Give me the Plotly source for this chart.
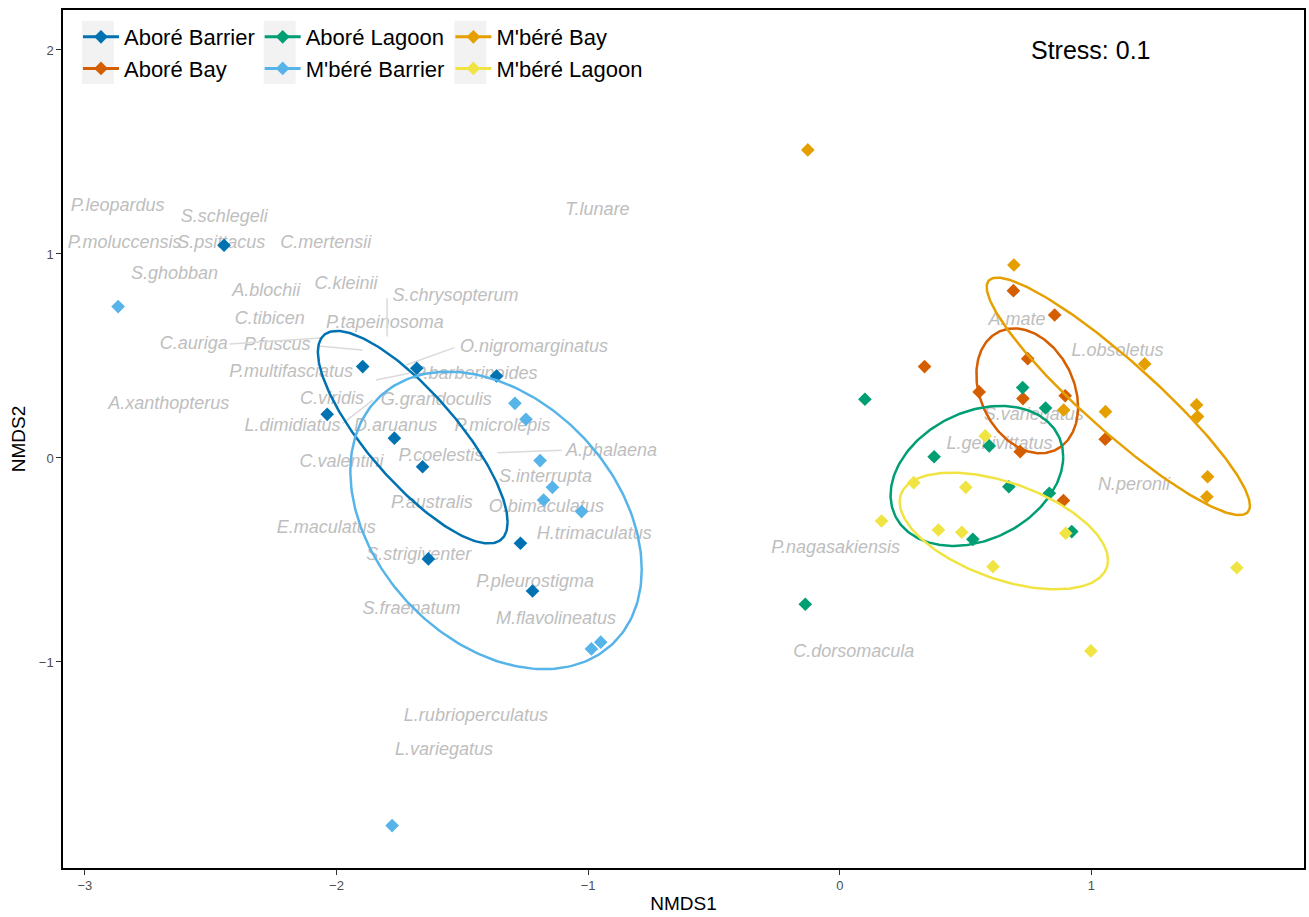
import numpy as np
import plotly.graph_objects as go

groups = ["Aboré Barrier", "Aboré Bay", "Aboré Lagoon", "M'béré Barrier", "M'béré Bay", "M'béré Lagoon"]
colors = ["#0072B2", "#D55E00", "#009E73", "#56B4E9", "#E69F00", "#F0E442"]

# site scores (NMDS1, NMDS2)
abore_barrier_x = [-2.447, -1.896, -1.681, -1.364, -2.037, -1.770, -1.658, -1.269, -1.635, -1.221]
abore_barrier_y = [1.043, 0.448, 0.440, 0.402, 0.214, 0.097, -0.043, -0.418, -0.495, -0.652]
abore_bay_x = [0.690, 0.854, 0.337, 0.747, 0.554, 0.728, 0.896, 1.055, 0.717, 0.889]
abore_bay_y = [0.820, 0.701, 0.448, 0.487, 0.324, 0.291, 0.305, 0.092, 0.031, -0.209]
abore_lagoon_x = [0.100, 0.727, 0.818, 0.594, 0.375, 0.672, 0.833, 0.529, 0.922, -0.137]
abore_lagoon_y = [0.288, 0.345, 0.245, 0.059, 0.006, -0.141, -0.173, -0.399, -0.361, -0.717]
mbere_barrier_x = [-2.868, -1.291, -1.247, -1.191, -1.142, -1.177, -1.026, -0.950, -0.987, -1.779]
mbere_barrier_y = [0.742, 0.268, 0.190, -0.013, -0.144, -0.206, -0.263, -0.903, -0.936, -1.802]
mbere_bay_x = [-0.127, 0.692, 1.212, 0.890, 1.056, 1.418, 1.422, 1.462, 1.459]
mbere_bay_y = [1.510, 0.946, 0.461, 0.235, 0.227, 0.260, 0.203, -0.092, -0.190]
mbere_lagoon_x = [0.578, 0.294, 0.501, 0.166, 0.392, 0.485, 0.898, 0.609, 1.578, 0.998]
mbere_lagoon_y = [0.108, -0.121, -0.144, -0.309, -0.353, -0.364, -0.369, -0.533, -0.538, -0.946]

site_x = [abore_barrier_x, abore_bay_x, abore_lagoon_x, mbere_barrier_x, mbere_bay_x, mbere_lagoon_x]
site_y = [abore_barrier_y, abore_bay_y, abore_lagoon_y, mbere_barrier_y, mbere_bay_y, mbere_lagoon_y]

# group ellipses: centre, sd along x / y, correlation
ell_cx = [-1.697, 0.745, 0.545, -1.366, 1.107, 0.652]
ell_cy = [0.102, 0.329, -0.088, -0.306, 0.302, -0.358]
ell_sx = [0.377, 0.202, 0.343, 0.579, 0.523, 0.414]
ell_sy = [0.521, 0.306, 0.343, 0.729, 0.582, 0.286]
ell_r = [-0.80, -0.26, 0.275, -0.33, -0.92, -0.50]

# species labels (repelled positions)
species = ["P.leopardus", "S.schlegeli", "P.moluccensis", "S.psittacus", "C.mertensii", "S.ghobban",
           "A.blochii", "C.kleinii", "C.tibicen", "C.auriga", "P.fuscus", "P.multifasciatus",
           "A.xanthopterus", "C.viridis", "L.dimidiatus", "S.chrysopterum", "P.tapeinosoma",
           "O.nigromarginatus", "P.barberinoides", "G.grandoculis", "D.aruanus", "P.microlepis",
           "A.phalaena", "P.coelestis", "C.valentini", "S.interrupta", "P.australis", "O.bimaculatus",
           "E.maculatus", "H.trimaculatus", "S.strigiventer", "P.pleurostigma", "S.fraenatum",
           "M.flavolineatus", "L.rubrioperculatus", "L.variegatus", "T.lunare", "A.mate",
           "L.obsoletus", "S.variegatus", "L.genivittatus", "N.peronii", "P.nagasakiensis",
           "C.dorsomacula"]
species_x = [-2.870, -2.446, -2.842, -2.458, -2.043, -2.644, -2.279, -1.962, -2.265, -2.567, -2.236,
             -2.180, -2.667, -2.018, -2.175, -1.527, -1.808, -1.215, -1.447, -1.604, -1.765, -1.341,
             -0.907, -1.585, -1.980, -1.169, -1.621, -1.166, -2.041, -0.976, -1.673, -1.211, -1.702,
             -1.128, -1.446, -1.573, -0.963, 0.704, 1.104, 0.771, 0.635, 1.169, -0.016, 0.056]
species_y = [1.235, 1.180, 1.049, 1.049, 1.049, 0.897, 0.815, 0.848, 0.681, 0.554, 0.550, 0.418,
             0.260, 0.288, 0.153, 0.791, 0.660, 0.543, 0.410, 0.281, 0.153, 0.153, 0.034, 0.006,
             -0.022, -0.097, -0.225, -0.242, -0.345, -0.374, -0.479, -0.611, -0.742, -0.791,
             -1.268, -1.435, 1.212, 0.673, 0.521, 0.206, 0.064, -0.136, -0.446, -0.952]

# repel segments (label -> species score)
seg_x0 = [-2.425, -2.075, -1.799, -1.532, -1.843, -1.975, -1.360]
seg_y0 = [0.559, 0.549, 0.783, 0.541, 0.382, 0.170, 0.026]
seg_x1 = [-2.060, -1.897, -1.799, -1.723, -1.710, -1.856, -1.105]
seg_y1 = [0.588, 0.529, 0.595, 0.456, 0.415, 0.284, 0.038]

font_family = "Liberation Sans, Arial, sans-serif"

fig = go.Figure()

fig.add_trace(go.Scatter(x=species_x, y=species_y, mode='text', text=species,
                         textfont=dict(family=font_family, size=18, color='#BEBEBE', style='italic'),
                         showlegend=False, hoverinfo='skip'))

sx, sy = [], []
for a, b, c, d in zip(seg_x0, seg_y0, seg_x1, seg_y1):
    sx += [a, c, None]
    sy += [b, d, None]
fig.add_trace(go.Scatter(x=sx, y=sy, mode='lines', line=dict(color='#DADADA', width=1.5),
                         showlegend=False, hoverinfo='skip'))

for i, g in enumerate(groups):
    fig.add_trace(go.Scatter(x=site_x[i], y=site_y[i], mode='markers', name=g, showlegend=False,
                             marker=dict(symbol='diamond', size=10.5, color=colors[i])))

t = np.linspace(0, 2 * np.pi, 240)
for i, g in enumerate(groups):
    ex = ell_cx[i] + ell_sx[i] * np.cos(t)
    ey = ell_cy[i] + ell_sy[i] * (ell_r[i] * np.cos(t) + np.sqrt(1 - ell_r[i] ** 2) * np.sin(t))
    fig.add_trace(go.Scatter(x=ex, y=ey, mode='lines', line=dict(color=colors[i], width=2.5),
                             showlegend=False, hoverinfo='skip'))

# legend entries, 3 columns of 2
legend_names = ['legend', 'legend2', 'legend3']
for i, g in enumerate(groups):
    fig.add_trace(go.Scatter(x=[None], y=[None], mode='lines+markers', name=g,
                             line=dict(color=colors[i], width=3),
                             marker=dict(symbol='diamond', size=10.5, color=colors[i]),
                             legend=legend_names[i // 2]))

W, H = 1309, 917
ml, mr, mt, mb = 63, 3, 10, 49
pw, ph = W - ml - mr, H - mt - mb

def px_x(p):
    return (p - ml) / pw

def px_y(p):
    return (H - mb - p) / ph

leg_common = dict(font=dict(family=font_family, size=22, color='black'), bgcolor='rgba(0,0,0,0)',
                  xanchor='left', yanchor='top', y=px_y(16), orientation='v', tracegroupgap=0,
                  itemwidth=36)

# grey key backgrounds like ggplot legend keys
for kx in [82, 264, 455]:
    fig.add_shape(type='rect', xref='paper', yref='paper', x0=px_x(kx), x1=px_x(kx + 32),
                  y0=px_y(84), y1=px_y(21), fillcolor='#F2F2F2', line=dict(width=0), layer='below')

fig.add_annotation(x=1, y=2, text="Stress: 0.1", showarrow=False,
                   font=dict(family=font_family, size=25, color='black'))

axis_common = dict(showgrid=False, zeroline=False, showline=True, mirror=True, linecolor='black',
                   linewidth=1.5, ticks='outside', ticklen=5, tickcolor='#333333',
                   tickfont=dict(family=font_family, size=13, color='#4D4D4D'))

fig.update_layout(
    width=W, height=H,
    margin=dict(l=ml, r=mr, t=mt, b=mb),
    plot_bgcolor='white', paper_bgcolor='white',
    font=dict(family=font_family),
    xaxis=dict(range=[-3.087, 1.845], tickvals=[-3, -2, -1, 0, 1],
               title=dict(text='NMDS1', font=dict(family=font_family, size=19, color='black'), standoff=4),
               **axis_common),
    yaxis=dict(range=[-2.01, 2.196], tickvals=[-1, 0, 1, 2],
               title=dict(text='NMDS2', font=dict(family=font_family, size=19, color='black'), standoff=8),
               **axis_common),
    legend=dict(x=px_x(78), **leg_common),
    legend2=dict(x=px_x(260), **leg_common),
    legend3=dict(x=px_x(451), **leg_common),
)

fig.write_html("out.html", config={'displayModeBar': False},
               post_script="document.body.style.margin='0';")
